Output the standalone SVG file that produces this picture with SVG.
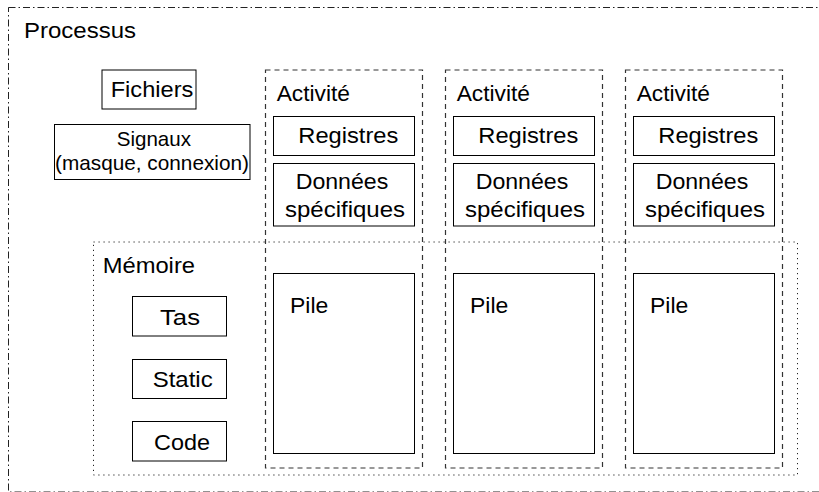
<svg xmlns="http://www.w3.org/2000/svg" width="819" height="492" viewBox="0 0 819 492">
<style>
text{font-family:"Liberation Sans",Arial,sans-serif;font-size:22.5px;fill:#000}
.box{fill:none;stroke:#000;stroke-width:1}
.outer{fill:none;stroke:#222;stroke-width:1;stroke-dasharray:7 3 1.5 3}
.dash{fill:none;stroke:#333;stroke-width:1.2;stroke-dasharray:5 4}
.dot{fill:none;stroke:#222;stroke-width:1;stroke-dasharray:1.2 3.8}
.sm{font-size:20.8px}
</style>
<rect width="819" height="492" fill="#fff"/>
<g id="processus">
<rect class="outer" x="8.5" y="7.5" width="830" height="484.5"/>
<text x="24" y="38" textLength="112" lengthAdjust="spacingAndGlyphs">Processus</text>
</g>
<g id="fichiers">
<rect class="box" x="102" y="70" width="94" height="39"/>
<text x="110.7" y="97" textLength="82.6" lengthAdjust="spacingAndGlyphs">Fichiers</text>
</g>
<g id="signaux">
<rect class="box" x="54.5" y="124.5" width="195.5" height="55"/>
<text class="sm" x="116.7" y="145.7" textLength="74.3" lengthAdjust="spacingAndGlyphs">Signaux</text>
<text class="sm" x="55" y="170" textLength="194" lengthAdjust="spacingAndGlyphs">(masque, connexion)</text>
</g>
<g id="memoire">
<rect class="dot" x="93.5" y="242" width="704" height="233"/>
<text x="102.7" y="273.3" textLength="92.3" lengthAdjust="spacingAndGlyphs">Mémoire</text>
</g>
<g id="tas">
<rect class="box" x="132.5" y="296.5" width="94" height="39.5"/>
<text x="160" y="325" textLength="40" lengthAdjust="spacingAndGlyphs">Tas</text>
</g>
<g id="static">
<rect class="box" x="132.5" y="359.5" width="94" height="39"/>
<text x="152.7" y="387.3" textLength="60" lengthAdjust="spacingAndGlyphs">Static</text>
</g>
<g id="code">
<rect class="box" x="132.5" y="421.5" width="94" height="39.5"/>
<text x="154" y="450" textLength="56" lengthAdjust="spacingAndGlyphs">Code</text>
</g>
<g id="activite1">
<rect class="dash" x="265.5" y="70" width="157" height="398"/>
<text x="276.7" y="100.7" textLength="73.3" lengthAdjust="spacingAndGlyphs">Activité</text>
<g id="registres1"><rect class="box" x="273.5" y="116.5" width="141" height="39"/>
<text x="298.3" y="143.3" textLength="100" lengthAdjust="spacingAndGlyphs">Registres</text></g>
<g id="donnees1"><rect class="box" x="273.5" y="163.5" width="141" height="62.5"/>
<text x="295.7" y="189.3" textLength="92.6" lengthAdjust="spacingAndGlyphs">Données</text>
<text x="285" y="216.7" textLength="120" lengthAdjust="spacingAndGlyphs">spécifiques</text></g>
<g id="pile1"><rect class="box" x="273.5" y="273.5" width="141" height="180"/>
<text x="290" y="313.3" textLength="38.3" lengthAdjust="spacingAndGlyphs">Pile</text></g>
</g>
<g id="activite2" transform="translate(180,0)">
<rect class="dash" x="265.5" y="70" width="157" height="398"/>
<text x="276.7" y="100.7" textLength="73.3" lengthAdjust="spacingAndGlyphs">Activité</text>
<g id="registres2"><rect class="box" x="273.5" y="116.5" width="141" height="39"/>
<text x="298.3" y="143.3" textLength="100" lengthAdjust="spacingAndGlyphs">Registres</text></g>
<g id="donnees2"><rect class="box" x="273.5" y="163.5" width="141" height="62.5"/>
<text x="295.7" y="189.3" textLength="92.6" lengthAdjust="spacingAndGlyphs">Données</text>
<text x="285" y="216.7" textLength="120" lengthAdjust="spacingAndGlyphs">spécifiques</text></g>
<g id="pile2"><rect class="box" x="273.5" y="273.5" width="141" height="180"/>
<text x="290" y="313.3" textLength="38.3" lengthAdjust="spacingAndGlyphs">Pile</text></g>
</g>
<g id="activite3" transform="translate(360,0)">
<rect class="dash" x="265.5" y="70" width="157" height="398"/>
<text x="276.7" y="100.7" textLength="73.3" lengthAdjust="spacingAndGlyphs">Activité</text>
<g id="registres3"><rect class="box" x="273.5" y="116.5" width="141" height="39"/>
<text x="298.3" y="143.3" textLength="100" lengthAdjust="spacingAndGlyphs">Registres</text></g>
<g id="donnees3"><rect class="box" x="273.5" y="163.5" width="141" height="62.5"/>
<text x="295.7" y="189.3" textLength="92.6" lengthAdjust="spacingAndGlyphs">Données</text>
<text x="285" y="216.7" textLength="120" lengthAdjust="spacingAndGlyphs">spécifiques</text></g>
<g id="pile3"><rect class="box" x="273.5" y="273.5" width="141" height="180"/>
<text x="290" y="313.3" textLength="38.3" lengthAdjust="spacingAndGlyphs">Pile</text></g>
</g>
<g id="connectors"></g>
</svg>
